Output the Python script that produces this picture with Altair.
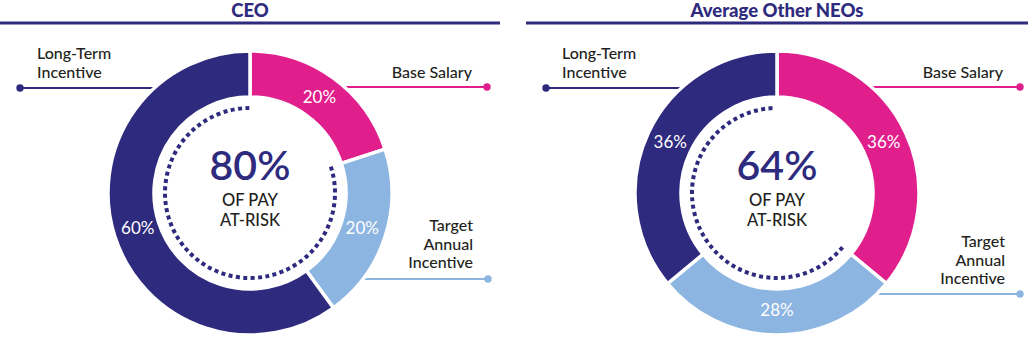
import math
import altair as alt
import pandas as pd

# ---------------- data ----------------
panels = ["CEO", "Average Other NEOs"]
components = ["Base Salary", "Target Annual Incentive", "Long-Term Incentive"]
pct_ceo = [20, 20, 60]
pct_neo = [36, 28, 36]
at_risk = [80, 64]
center_lines = ["OF PAY", "AT-RISK"]
callout_text = {
    "Long-Term Incentive": ["Long-Term", "Incentive"],
    "Base Salary": ["Base Salary"],
    "Target Annual Incentive": ["Target", "Annual", "Incentive"],
}

# ---------------- style / layout ----------------
NAVY = "#2E2A7E"
PINK = "#E01E8C"
LBLUE = "#8CB5E1"
INK = "#231F20"
FONT = "Lato"
colors = [PINK, LBLUE, NAVY]
W, H = 1028, 338
centers = [(250, 193), (777, 193)]
R_OUT, R_IN, R_DOT, R_LAB = 142, 96, 85, 118
title_rule = [(0, 500), (526, 1028)]
TITLE_Y, RULE_Y = 16.5, 23

# callout layout per panel: component -> (text x, first line y, align, line y, dot x, side)
callout_layout = [
    {
        "Long-Term Incentive": (37, 54, "left", 88, 20, -1),
        "Base Salary": (472, 73, "right", 87, 487, 1),
        "Target Annual Incentive": (473, 226, "right", 279, 488, 1),
    },
    {
        "Long-Term Incentive": (562, 54, "left", 88, 546, -1),
        "Base Salary": (1003, 73, "right", 87, 1020, 1),
        "Target Annual Incentive": (1005, 242, "right", 294, 1020, 1),
    },
]
LINE_H = 18.7

color_scale = alt.Scale(domain=components, range=colors)
layers = []

# title texts and rules
title_df = pd.DataFrame({
    "title": panels,
    "x": [(a + b) / 2 for a, b in title_rule],
    "y": [TITLE_Y, TITLE_Y],
})
rule_df = pd.DataFrame({
    "x": [a for a, b in title_rule],
    "x2": [b for a, b in title_rule],
    "y": [RULE_Y, RULE_Y],
})
layers.append(
    alt.Chart(rule_df).mark_rule(color=NAVY, strokeWidth=3).encode(
        x=alt.X("x:Q", scale=None, axis=None),
        x2="x2:Q",
        y=alt.Y("y:Q", scale=None, axis=None),
    )
)
layers.append(
    alt.Chart(title_df).mark_text(
        font=FONT, fontSize=18.5, fontWeight=900, color=NAVY, baseline="alphabetic", align="center"
    ).encode(
        x=alt.X("x:Q", scale=None, axis=None),
        y=alt.Y("y:Q", scale=None, axis=None),
        text="title:N",
    )
)

for p, (pct, risk) in enumerate(zip([pct_ceo, pct_neo], at_risk)):
    cx, cy = centers[p]
    # callouts
    rows, trows = [], []
    for comp in components:
        tx, ty, align, ly, dx, side = callout_layout[p][comp]
        dy = ly - cy
        xe = cx + side * math.sqrt((R_OUT - 6) ** 2 - dy ** 2)
        rows.append({"comp": comp, "x": dx, "x2": xe, "y": ly})
        for i, line in enumerate(callout_text[comp]):
            trows.append({"t": line, "x": tx, "y": ty + i * LINE_H, "align": align})
    cdf = pd.DataFrame(rows)
    tdf = pd.DataFrame(trows)
    layers.append(
        alt.Chart(cdf).mark_rule(strokeWidth=2).encode(
            x=alt.X("x:Q", scale=None, axis=None),
            x2="x2:Q",
            y=alt.Y("y:Q", scale=None, axis=None),
            color=alt.Color("comp:N", scale=color_scale, legend=None),
        )
    )
    layers.append(
        alt.Chart(cdf).mark_circle(size=55, opacity=1).encode(
            x=alt.X("x:Q", scale=None, axis=None),
            y=alt.Y("y:Q", scale=None, axis=None),
            color=alt.Color("comp:N", scale=color_scale, legend=None),
        )
    )
    for al in ["left", "right"]:
        sub = tdf[tdf["align"] == al]
        if len(sub):
            layers.append(
                alt.Chart(sub).mark_text(
                    font=FONT, fontSize=16, fontWeight=500, color=INK, align=al, baseline="middle"
                ).encode(
                    x=alt.X("x:Q", scale=None, axis=None),
                    y=alt.Y("y:Q", scale=None, axis=None),
                    text="t:N",
                )
            )

    # donut
    ddf = pd.DataFrame({
        "comp": components,
        "pct": pct,
        "idx": list(range(len(components))),
        "label": [f"{v}%" for v in pct],
    })
    base = alt.Chart(ddf).encode(
        theta=alt.Theta("pct:Q", stack=True, scale=alt.Scale(domain=[0, 100])),
        order=alt.Order("idx:Q"),
        x=alt.value(cx),
        y=alt.value(cy),
    )
    layers.append(
        base.mark_arc(stroke="white", strokeWidth=3.5).encode(
            radius=alt.value(R_OUT),
            radius2=alt.value(R_IN),
            color=alt.Color("comp:N", scale=color_scale, legend=None),
        )
    )
    layers.append(
        base.mark_text(radius=R_LAB, font=FONT, fontSize=17, color="white",
                       align="center", baseline="middle").encode(text="label:N")
    )

    # dotted at-risk arc
    start = (1 - risk / 100) * 2 * math.pi
    end = 2 * math.pi
    L = R_DOT * (end - start)
    n = int((L + 3.4) // 7.4)
    dash = [4, 3.4] * (n - 1) + [4, 4000]
    layers.append(
        alt.Chart(pd.DataFrame({"r": [risk]})).mark_arc(
            filled=False, stroke=NAVY, strokeWidth=4, strokeDash=dash, fillOpacity=0
        ).encode(
            theta=alt.value(start),
            theta2=alt.value(end),
            radius=alt.value(R_DOT),
            radius2=alt.value(R_DOT),
            x=alt.value(cx),
            y=alt.value(cy),
        )
    )

    # center text
    layers.append(
        alt.Chart(pd.DataFrame({"t": [f"{risk}%"]})).mark_text(
            font=FONT, fontSize=41, fontWeight=600, color=NAVY, align="center", baseline="middle"
        ).encode(x=alt.value(cx), y=alt.value(cy - 25), text="t:N")
    )
    layers.append(
        alt.Chart(pd.DataFrame({"t": center_lines, "y": [cy + 8, cy + 28]})).mark_text(
            font=FONT, fontSize=16.5, fontWeight=500, color=INK, align="center", baseline="middle"
        ).encode(
            x=alt.value(cx),
            y=alt.Y("y:Q", scale=None, axis=None),
            text="t:N",
        )
    )

chart = alt.layer(*layers).properties(
    width=W, height=H, padding=0, autosize="none", background="white"
).configure_view(stroke=None)

chart.save("out.html", embed_options={"renderer": "svg", "actions": False})
